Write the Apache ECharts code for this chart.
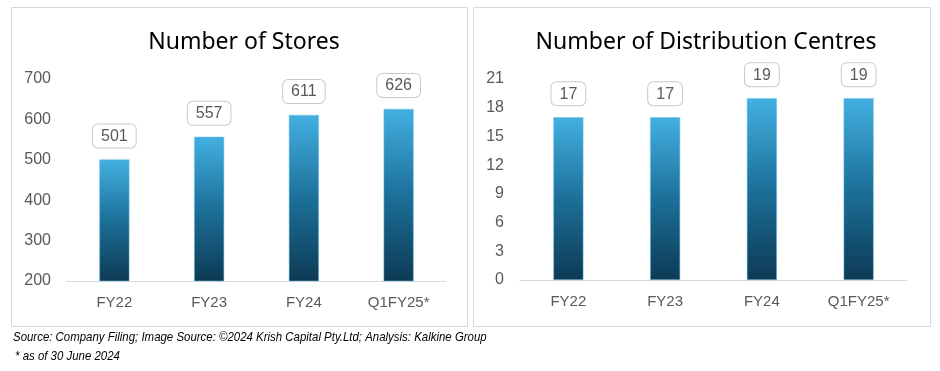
<!DOCTYPE html>
<html><head><meta charset="utf-8">
<script src="https://cdn.jsdelivr.net/npm/echarts@6/dist/echarts.min.js"></script>
<style>html,body{margin:0;padding:0;background:#fff}#c{width:940px;height:371px}</style>
</head><body><div id="c"></div>
<script>
const categories = ['FY22', 'FY23', 'FY24', 'Q1FY25*'];
const storeValues = [501, 557, 611, 626];
const dcValues = [17, 17, 19, 19];
const storeTicks = [200, 700, 100];
const dcTicks = [0, 21, 3];
const titles = ['Number of Stores', 'Number of Distribution Centres'];
const footnotes = ['Source: Company Filing; Image Source: \u00a92024 Krish Capital Pty.Ltd; Analysis: Kalkine Group', '* as of 30 June 2024'];

const chart = echarts.init(document.getElementById('c'));
const grad = new echarts.graphic.LinearGradient(0, 0, 0, 1, [
  {offset: 0, color: '#43b0e2'},
  {offset: 0.5, color: '#1c7099'},
  {offset: 1, color: '#0d3a55'}
]);
const txt = '#595959';
const font = 'Liberation Sans';
function xAx(i) {
  return {type: 'category', gridIndex: i, data: categories,
    axisLine: {lineStyle: {color: '#d9d9d9'}}, axisTick: {show: false},
    axisLabel: {color: txt, fontSize: 15, fontFamily: font, margin: 14}};
}
function yAx(i, t) {
  return {type: 'value', gridIndex: i, min: t[0], max: t[1], interval: t[2],
    splitLine: {show: false}, axisLine: {show: false}, axisTick: {show: false},
    axisLabel: {color: txt, fontSize: 16, fontFamily: font, margin: 16}};
}
function ser(i, vals) {
  return {type: 'bar', xAxisIndex: i, yAxisIndex: i, data: vals, barWidth: 30,
    itemStyle: {color: grad, borderColor: '#6fc3ea', borderWidth: 0.5},
    label: {show: true, position: 'top', distance: 12, color: txt, fontSize: 16, fontFamily: font,
      backgroundColor: '#fff', borderColor: '#c8c8c8', borderWidth: 1, borderRadius: 5,
      padding: [4, 8, 3, 8]}};
}
const footFont = 'italic 13px "Liberation Sans"';
chart.setOption({
  animation: false,
  title: [
    {text: titles[0], left: 239, top: 26, textAlign: 'center',
      textStyle: {fontFamily: 'Noto Sans', fontSize: 23, fontWeight: 'normal', color: '#000'}},
    {text: titles[1], left: 701, top: 26, textAlign: 'center',
      textStyle: {fontFamily: 'Noto Sans', fontSize: 23, fontWeight: 'normal', color: '#000'}}
  ],
  grid: [
    {left: 67, right: 494, top: 79, bottom: 90},
    {left: 520, right: 33, top: 79, bottom: 91}
  ],
  xAxis: [xAx(0), xAx(1)],
  yAxis: [yAx(0, storeTicks), yAx(1, dcTicks)],
  series: [ser(0, storeValues), ser(1, dcValues)],
  graphic: [
    {type: 'rect', shape: {x: 11.5, y: 7.5, width: 456, height: 319}, style: {fill: 'none', stroke: '#d9d9d9', lineWidth: 1}, silent: true},
    {type: 'rect', shape: {x: 473.5, y: 7.5, width: 457, height: 319}, style: {fill: 'none', stroke: '#d9d9d9', lineWidth: 1}, silent: true},
    {type: 'text', x: 13, y: 331, scaleX: 0.88, style: {text: footnotes[0], fill: '#000', font: footFont}},
    {type: 'text', x: 15, y: 350, scaleX: 0.88, style: {text: footnotes[1], fill: '#000', font: footFont}}
  ]
});
</script></body></html>
